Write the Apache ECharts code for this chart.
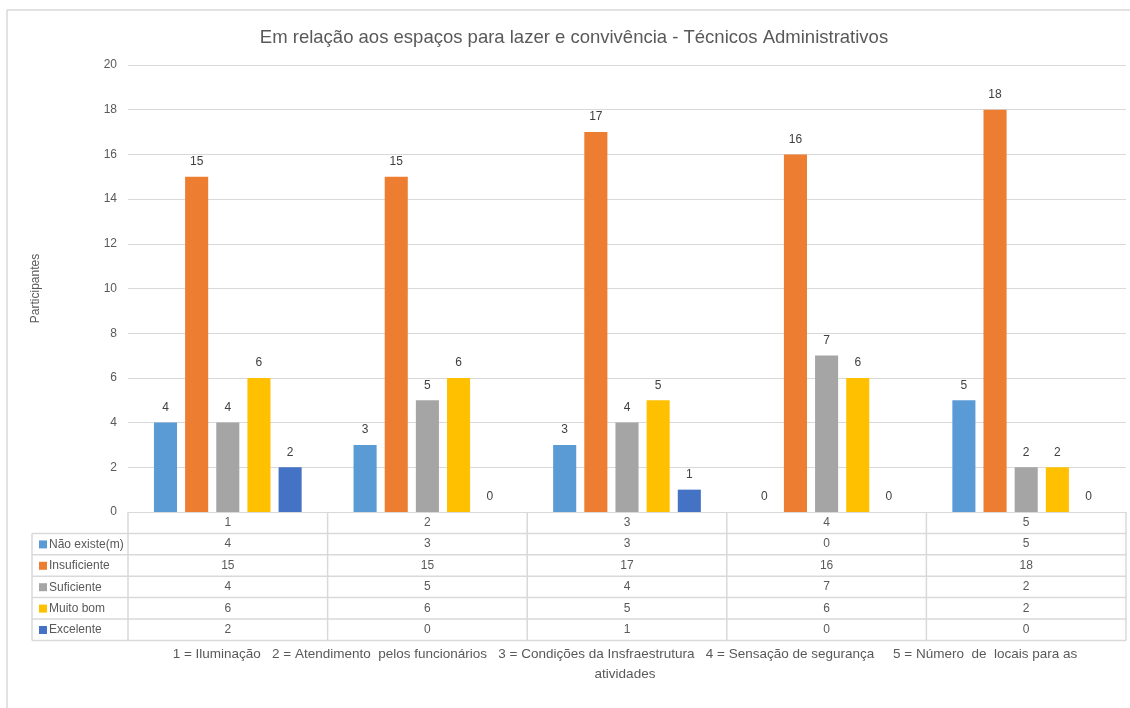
<!DOCTYPE html>
<html lang="pt">
<head>
    <meta charset="UTF-8">
    <title>Espaços para lazer e convivência</title>
    <script src="https://cdn.jsdelivr.net/npm/echarts@6/dist/echarts.min.js"></script>
</head>
<body style="margin:0;width:1130px;height:708px;background:#fff">
<div id="main" style="width:1130px;height:708px"></div>
<script>
    // dados
    var categorias = ['1', '2', '3', '4', '5'];
    var nomesSeries = ['Não existe(m)', 'Insuficiente', 'Suficiente', 'Muito bom', 'Excelente'];
    var naoExiste = [4, 3, 3, 0, 5];
    var insuficiente = [15, 15, 17, 16, 18];
    var suficiente = [4, 5, 4, 7, 2];
    var muitoBom = [6, 6, 5, 6, 2];
    var excelente = [2, 0, 1, 0, 0];
    var yTicks = [0, 2, 4, 6, 8, 10, 12, 14, 16, 18, 20];
    var legenda = '1 = Iluminação   2 = Atendimento  pelos funcionários   3 = Condições da Insfraestrutura   4 = Sensação de segurança     5 = Número  de  locais para as\natividades';

    var valores = [naoExiste, insuficiente, suficiente, muitoBom, excelente];
    var cores = ['#5B9BD5', '#ED7D31', '#A5A5A5', '#FFC000', '#4472C4'];

    var fonte = 'Liberation Sans';
    var cinza = '#595959';
    var linha = '#d9d9d9';

    // layout da área de plotagem e da tabela
    var gLeft = 128, gRight = 1126, gTop = 65, gBottom = 512;
    var rowH = 21.4;
    var colW = (gRight - gLeft) / categorias.length;

    var myChart = echarts.init(document.getElementById('main'));

    var xAxes = [{
        type: 'category',
        data: categorias,
        position: 'bottom',
        axisLine: {show: true, lineStyle: {color: linha}},
        axisTick: {show: false},
        axisLabel: {color: cinza, fontSize: 12, fontFamily: fonte, margin: rowH / 2, verticalAlign: 'middle'}
    }];
    // uma linha da tabela por série, como eixos extras
    valores.forEach(function (v, i) {
        xAxes.push({
            type: 'category',
            data: v.map(String),
            position: 'bottom',
            offset: rowH * (i + 1),
            axisLine: {show: false},
            axisTick: {show: false},
            axisLabel: {color: cinza, fontSize: 12, fontFamily: fonte, margin: rowH / 2, verticalAlign: 'middle'}
        });
    });

    var series = nomesSeries.map(function (nome, i) {
        return {
            name: nome,
            type: 'bar',
            data: valores[i],
            barGap: '35%',
            barCategoryGap: '26%',
            itemStyle: {color: cores[i]},
            label: {show: true, position: 'top', distance: 9, color: '#404040', fontSize: 12, fontFamily: fonte}
        };
    });

    // linhas da tabela e moldura
    var graficos = [];
    function hLine(x1, x2, y) {
        graficos.push({type: 'line', silent: true, shape: {x1: x1, y1: y, x2: x2, y2: y}, style: {stroke: linha, lineWidth: 1.5}});
    }
    function vLine(x, y1, y2) {
        graficos.push({type: 'line', silent: true, shape: {x1: x, y1: y1, x2: x, y2: y2}, style: {stroke: linha, lineWidth: 1.5}});
    }
    var tabBottom = gBottom + rowH * 6;
    for (var k = 1; k <= 6; k++) {
        hLine(32, gRight, gBottom + rowH * k);
    }
    vLine(32, gBottom + rowH, tabBottom);
    for (var c = 0; c <= categorias.length; c++) {
        vLine(gLeft + colW * c, gBottom, tabBottom);
    }
    hLine(7, 1130, 10);
    vLine(7, 10, 708);
    graficos.push({
        type: 'text',
        x: 625,
        y: 644,
        silent: true,
        style: {text: legenda, fill: cinza, fontSize: 13.5, fontFamily: fonte, align: 'center', lineHeight: 20}
    });

    myChart.setOption({
        animation: false,
        title: {
            text: 'Em relação aos espaços para lazer e convivência - Técnicos Administrativos',
            left: 569,
            textAlign: 'center',
            top: 23,
            textStyle: {color: cinza, fontSize: 18.5, fontWeight: 'normal', fontFamily: fonte}
        },
        legend: {
            orient: 'vertical',
            left: 34,
            top: gBottom + rowH - 1,
            itemWidth: 8,
            itemHeight: 8,
            itemGap: rowH - 14,
            icon: 'rect',
            selectedMode: false,
            data: nomesSeries,
            textStyle: {color: cinza, fontSize: 12, fontFamily: fonte, lineHeight: 14, padding: [0, 0, 0, -3]}
        },
        grid: {left: gLeft, right: 1130 - gRight, top: gTop, bottom: 708 - gBottom, containLabel: false},
        xAxis: xAxes,
        yAxis: {
            type: 'value',
            min: yTicks[0],
            max: yTicks[yTicks.length - 1],
            interval: 2,
            name: 'Participantes',
            nameLocation: 'middle',
            nameGap: 86,
            nameTextStyle: {color: cinza, fontSize: 12, fontFamily: fonte},
            axisLine: {show: false},
            axisTick: {show: false},
            axisLabel: {color: cinza, fontSize: 12, fontFamily: fonte, margin: 11},
            splitLine: {lineStyle: {color: linha, width: 1}}
        },
        series: series,
        graphic: graficos
    });

    window.addEventListener('resize', function () {
        myChart.resize();
    });
</script>
</body>
</html>
